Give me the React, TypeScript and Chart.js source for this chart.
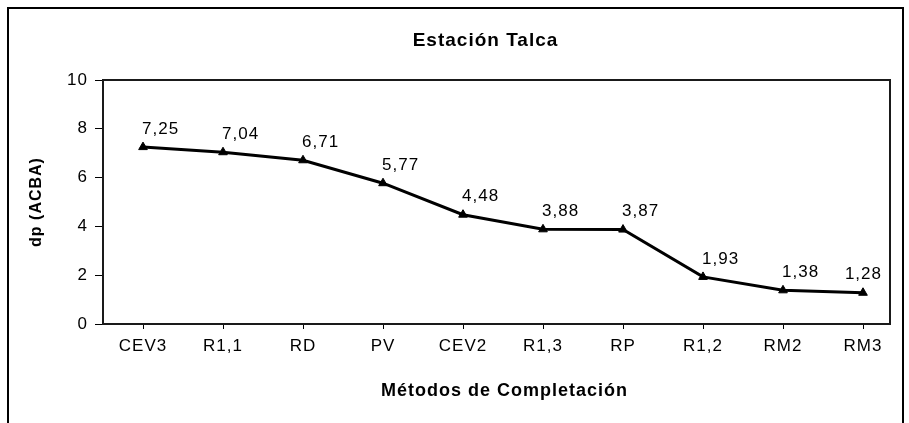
import React, { useEffect, useRef } from "react";
import { Chart, registerables } from "chart.js";

Chart.register(...registerables);

const categories = ["CEV3", "R1,1", "RD", "PV", "CEV2", "R1,3", "RP", "R1,2", "RM2", "RM3"];
const values = [7.25, 7.04, 6.71, 5.77, 4.48, 3.88, 3.87, 1.93, 1.38, 1.28];
const yTicks = [0, 2, 4, 6, 8, 10];
const chartTitle = "Estación Talca";
const xTitle = "Métodos de Completación";
const yTitle = "dp (ACBA)";

const FAMILY = '"Liberation Sans", Arial, sans-serif';
const SPACING = "1px";

const fmt = (v: number) => v.toFixed(2).replace(".", ",");

const spacingPlugin = {
  id: "letterSpacing",
  beforeInit(chart: any) {
    chart.ctx.letterSpacing = SPACING;
  },
  beforeUpdate(chart: any) {
    chart.ctx.letterSpacing = SPACING;
  },
  beforeLayout(chart: any) {
    chart.ctx.letterSpacing = SPACING;
  },
  beforeDraw(chart: any) {
    chart.ctx.letterSpacing = SPACING;
  },
};

const plotBorderPlugin = {
  id: "plotBorder",
  beforeDatasetsDraw(chart: any) {
    const { ctx, chartArea } = chart;
    ctx.save();
    ctx.strokeStyle = "#1a1a1a";
    ctx.lineWidth = 2;
    ctx.strokeRect(chartArea.left, chartArea.top, chartArea.right - chartArea.left, chartArea.bottom - chartArea.top);
    ctx.restore();
  },
};

const titlesPlugin = {
  id: "titles",
  afterDraw(chart: any) {
    const { ctx, chartArea } = chart;
    const cx = (chartArea.left + chartArea.right) / 2;
    ctx.save();
    ctx.letterSpacing = SPACING;
    ctx.fillStyle = "#000";
    ctx.textAlign = "center";
    ctx.textBaseline = "middle";
    ctx.font = `bold 19px ${FAMILY}`;
    ctx.fillText(chartTitle, cx - 11, chartArea.top - 39);
    ctx.font = `bold 18px ${FAMILY}`;
    ctx.fillText(xTitle, cx + 8, chartArea.bottom + 67);
    ctx.restore();
  },
};

const valueLabelPlugin = {
  id: "valueLabels",
  afterDatasetsDraw(chart: any) {
    const { ctx, chartArea } = chart;
    const meta = chart.getDatasetMeta(0);
    ctx.save();
    ctx.font = `17px ${FAMILY}`;
    ctx.letterSpacing = SPACING;
    ctx.fillStyle = "#000";
    ctx.textAlign = "left";
    ctx.textBaseline = "middle";
    meta.data.forEach((pt: any, i: number) => {
      const text = fmt(values[i]);
      const w = ctx.measureText(text).width;
      const x = Math.min(pt.x - 1, chartArea.right - 8 - w);
      ctx.fillText(text, x, pt.y - 18);
    });
    ctx.restore();
  },
};

export default function App() {
  const canvasRef = useRef<HTMLCanvasElement | null>(null);

  useEffect(() => {
    if (!canvasRef.current) return;
    const chart = new Chart(canvasRef.current, {
      type: "line",
      data: {
        datasets: [
          {
            data: values.map((v, i) => ({ x: i, y: v })),
            borderColor: "#000",
            borderWidth: 3,
            pointStyle: "triangle",
            pointRadius: 5,
            pointBackgroundColor: "#000",
            pointBorderColor: "#000",
            pointBorderWidth: 1,
            tension: 0,
            fill: false,
          },
        ],
      },
      options: {
        animation: false,
        responsive: false,
        devicePixelRatio: 1,
        layout: { padding: { left: 0, top: 80, right: 19, bottom: 0 } },
        plugins: {
          legend: { display: false },
          tooltip: { enabled: false },
          title: { display: false },
        },
        scales: {
          x: {
            type: "linear",
            min: -0.5,
            max: 9.3375,
            afterBuildTicks: (s: any) => {
              s.ticks = categories.map((_, i) => ({ value: i }));
            },
            afterFit: (s: any) => {
              s.height = 99;
            },
            ticks: {
              callback: (v: any) => categories[v as number],
              autoSkip: false,
              maxRotation: 0,
              color: "#000",
              padding: 7,
              font: { family: FAMILY, size: 17 },
            },
            grid: { drawOnChartArea: false, drawTicks: true, tickLength: 5, color: "#000" },
            border: { display: false },
          },
          y: {
            min: 0,
            max: 10,
            afterBuildTicks: (s: any) => {
              s.ticks = yTicks.map((v) => ({ value: v }));
            },
            afterFit: (s: any) => {
              s.width = 103;
            },
            ticks: {
              color: "#000",
              padding: 7,
              font: { family: FAMILY, size: 17 },
            },
            grid: { drawOnChartArea: false, drawTicks: true, tickLength: 8, color: "#000" },
            border: { display: false },
            title: {
              display: true,
              text: yTitle,
              color: "#000",
              font: { family: FAMILY, size: 16, weight: "bold" },
              padding: { top: 27, bottom: 0 },
            },
          },
        },
      },
      plugins: [spacingPlugin, plotBorderPlugin, valueLabelPlugin, titlesPlugin],
    } as any);
    return () => chart.destroy();
  }, []);

  return (
    <div
      style={{
        position: "fixed",
        left: 0,
        top: 0,
        width: 909,
        height: 423,
        background: "#fff",
        overflow: "hidden",
      }}
    >
      <canvas ref={canvasRef} width={909} height={423} style={{ position: "absolute", left: 0, top: 0 }} />
      <div
        style={{
          position: "absolute",
          left: 7,
          top: 7,
          width: 897,
          height: 500,
          border: "2px solid #000",
          boxSizing: "border-box",
          pointerEvents: "none",
        }}
      />
    </div>
  );
}
